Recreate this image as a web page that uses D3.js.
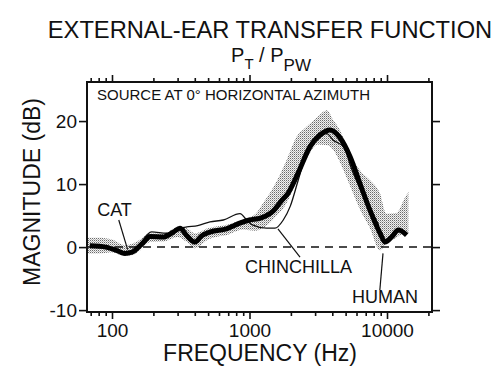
<!DOCTYPE html>
<html>
<head>
<meta charset="utf-8">
<script src="https://cdn.jsdelivr.net/npm/d3@7"></script>
<style>
body { margin: 0; background: #fff; }
text { font-family: "Liberation Sans", Arial, sans-serif; fill: #111; }
</style>
</head>
<body>
<svg id="chart" width="500" height="378"></svg>
<script>
// values: frequency in Hz, magnitude in dB
let catFreq = [69, 90, 110, 124, 140, 165, 190, 235, 280, 312, 350, 400, 450, 520, 680, 850, 1000, 1200, 1500, 1700, 1900, 2250, 2750, 3250, 3850, 4500, 5400, 6350, 7500, 8900, 9700, 10800, 12100, 13900];
let catDb = [0.2, 0, -0.6, -1.0, -0.8, 0.5, 1.7, 1.6, 2.4, 3.0, 1.8, 0.8, 1.8, 2.4, 2.9, 3.8, 4.3, 4.6, 5.8, 7.3, 8.5, 11.7, 15.9, 17.8, 18.6, 17.5, 14.3, 10.1, 5.9, 2.2, 0.8, 1.6, 2.7, 1.9];

let chinFreq = [69, 90, 124, 150, 194, 250, 312, 350, 420, 516, 645, 852, 980, 1060, 1330, 1530, 1760, 1980, 2260, 2600, 3100, 3650, 4050, 4900, 5400, 6300, 7500, 8000, 8700];
let chinDb = [0.2, 0, -0.9, -0.2, 2.4, 2.2, 3.0, 3.2, 3.4, 4.0, 4.3, 5.3, 4.0, 3.5, 3.0, 3.0, 4.3, 6.5, 10.6, 14.9, 17.0, 18.0, 17.0, 15.8, 13.0, 9.5, 6.0, 5.0, 3.5];

let humanFreq = [66, 80, 100, 124, 150, 190, 240, 300, 350, 400, 500, 700, 900, 1100, 1250, 1500, 1860, 2200, 2600, 3140, 3650, 4050, 4540, 5360, 6350, 7520, 8890, 9900, 11700, 13400, 14300];
let humanHigh = [1.5, 1.5, 1.2, 0.3, 0.8, 2.2, 2.2, 3.2, 3.0, 2.2, 3.0, 3.6, 4.4, 5.2, 6.9, 9.6, 13.8, 17.5, 19.1, 20.7, 21.7, 20.2, 18.6, 14.9, 12.2, 10.6, 8.5, 5.3, 5.4, 7.7, 8.8];
let humanLow = [-1.0, -1.0, -0.8, -1.4, -1.0, 0.8, 0.9, 1.6, 0.8, -0.2, 1.2, 2.0, 2.8, 2.6, 3.0, 4.5, 7.0, 10.5, 14.0, 16.3, 16.2, 15.5, 13.5, 9.8, 6.0, 3.0, -0.5, 0.6, 1.5, 2.2, 2.2];

let freqTicks = [70, 80, 90, 100, 200, 300, 400, 500, 600, 700, 800, 900, 1000, 2000, 3000, 4000, 5000, 6000, 7000, 8000, 9000, 10000, 20000];
let freqLabels = [100, 1000, 10000];
let dbTicks = [-10, 0, 10, 20];

// label text, anchor [Hz, dB], leader from/to [Hz, dB]
let labelNames = ["CAT", "CHINCHILLA", "HUMAN"];
let labelAt = [[78, 4.9], [928, -4.1], [5560, -8.9]];
let leaderFrom = [[112, 4.3], [1610, 2.9], [9350, -1.0]];
let leaderTo = [[130, -0.4], [2330, -1.6], [8870, -6.8]];

let svg = d3.select("#chart");
let plotLeft = 87, plotRight = 432, plotTop = 82, plotBottom = 312;

let x = d3.scaleLog().domain([65.8, 21240]).range([plotLeft, plotRight]);
let y = d3.scaleLinear().domain([-10.3, 26.2]).range([plotBottom, plotTop]);

// stipple pattern for the human band
let pat = svg.append("defs").
append("pattern").
attr("id", "stipple").
attr("width", 2).
attr("height", 2).
attr("patternUnits", "userSpaceOnUse");
pat.append("rect").attr("width", 2).attr("height", 2).attr("fill", "#f2f2f2");
pat.append("rect").attr("width", 1).attr("height", 1).attr("fill", "#6a6a6a");
pat.append("rect").attr("x", 1).attr("y", 1).attr("width", 1).attr("height", 1).attr("fill", "#b4b4b4");

// titles
svg.append("text").
attr("x", 270).
attr("y", 38).
attr("text-anchor", "middle").
style("font-size", "23.7px").
text("EXTERNAL-EAR TRANSFER FUNCTION");

let sub = svg.append("text").
attr("x", 271).
attr("y", 62).
attr("text-anchor", "middle").
style("font-size", "20px");
sub.append("tspan").text("P");
sub.append("tspan").attr("dy", 7).style("font-size", "15px").text("T");
sub.append("tspan").attr("dy", -7).text(" / P");
sub.append("tspan").attr("dy", 9).style("font-size", "17px").text("PW");

svg.append("text").
attr("x", 97).
attr("y", 100).
style("font-size", "15px").
text("SOURCE AT 0\u00b0 HORIZONTAL AZIMUTH");

// human band
let band = humanFreq.map((f, i) => [f, humanLow[i], humanHigh[i]]);
svg.append("path").
datum(band).
attr("fill", "url(#stipple)").
attr("d", d3.area().
x(d => x(d[0])).
y0(d => y(d[1])).
y1(d => y(d[2])).
curve(d3.curveMonotoneX));

// zero line
svg.append("line").
attr("x1", plotLeft).
attr("x2", plotRight).
attr("y1", y(0)).
attr("y2", y(0)).
attr("stroke", "#111").
attr("stroke-width", 1.5).
attr("stroke-dasharray", "8,6");

let line = d3.line().
x(d => x(d[0])).
y(d => y(d[1])).
curve(d3.curveMonotoneX);

svg.append("path").
datum(chinFreq.map((f, i) => [f, chinDb[i]])).
attr("fill", "none").
attr("stroke", "#111").
attr("stroke-width", 1.3).
attr("d", line);

svg.append("path").
datum(catFreq.map((f, i) => [f, catDb[i]])).
attr("fill", "none").
attr("stroke", "#000").
attr("stroke-width", 5).
attr("stroke-linejoin", "round").
attr("d", line);

// labels and leaders
svg.selectAll(".leader").
data(labelNames).
enter().
append("line").
attr("class", "leader").
attr("x1", (d, i) => x(leaderFrom[i][0])).
attr("y1", (d, i) => y(leaderFrom[i][1])).
attr("x2", (d, i) => x(leaderTo[i][0])).
attr("y2", (d, i) => y(leaderTo[i][1])).
attr("stroke", "#111").
attr("stroke-width", 1.2);

svg.selectAll(".curve-label").
data(labelNames).
enter().
append("text").
attr("class", "curve-label").
attr("x", (d, i) => x(labelAt[i][0])).
attr("y", (d, i) => y(labelAt[i][1])).
style("font-size", "18px").
text(d => d);

// axes
function styleAxis(g) {
  g.select(".domain").remove();
  g.selectAll("line").attr("stroke", "#111").attr("stroke-width", 1.6);
  g.selectAll("text").style("font-size", "19px").attr("fill", "#111");
}

let minorTicks = freqTicks.filter(d => !freqLabels.includes(d));

svg.append("g").
attr("transform", `translate(0,${plotBottom})`).
call(d3.axisBottom(x).tickValues(minorTicks).tickSize(4).tickFormat("")).
call(styleAxis);
svg.append("g").
attr("transform", `translate(0,${plotBottom})`).
call(d3.axisBottom(x).tickValues(freqLabels).tickSize(7).tickPadding(5).tickFormat(d => String(d))).
call(styleAxis);
svg.append("g").
attr("transform", `translate(0,${plotTop})`).
call(d3.axisTop(x).tickValues(minorTicks).tickSize(4).tickFormat("")).
call(styleAxis);
svg.append("g").
attr("transform", `translate(0,${plotTop})`).
call(d3.axisTop(x).tickValues(freqLabels).tickSize(7).tickFormat("")).
call(styleAxis);

svg.append("g").
attr("transform", `translate(${plotLeft},0)`).
call(d3.axisLeft(y).tickValues(dbTicks).tickSize(8).tickPadding(2).tickFormat(d => String(d))).
call(styleAxis);
svg.append("g").
attr("transform", `translate(${plotRight},0)`).
call(d3.axisRight(y).tickValues(dbTicks).tickSize(8).tickFormat("")).
call(styleAxis);

// frame
svg.append("rect").
attr("x", plotLeft).
attr("y", plotTop).
attr("width", plotRight - plotLeft).
attr("height", plotBottom - plotTop).
attr("fill", "none").
attr("stroke", "#111").
attr("stroke-width", 2);

svg.append("text").
attr("x", 260).
attr("y", 361).
attr("text-anchor", "middle").
style("font-size", "23px").
text("FREQUENCY (Hz)");

svg.append("text").
attr("transform", "translate(40,192) rotate(-90)").
attr("text-anchor", "middle").
style("font-size", "23px").
text("MAGNITUDE (dB)");
</script>
</body>
</html>
